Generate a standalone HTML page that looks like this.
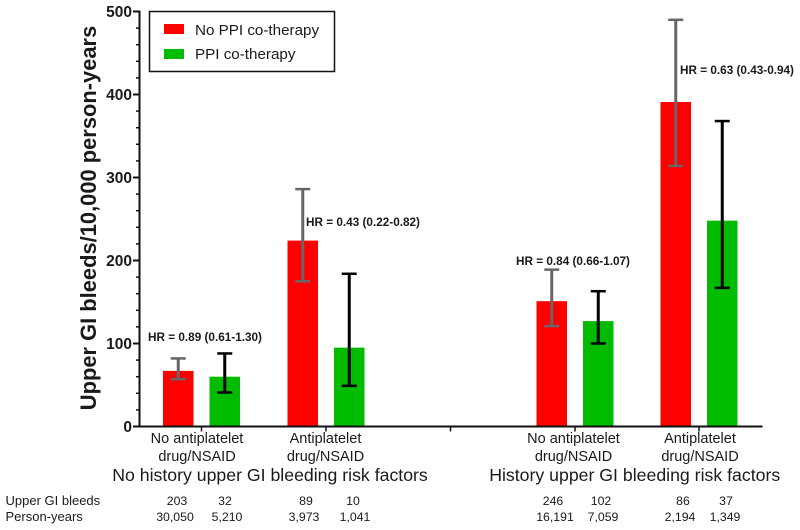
<!DOCTYPE html>
<html>
<head>
<meta charset="utf-8">
<style>
html,body{margin:0;padding:0;background:#fff;width:800px;height:530px;overflow:hidden}
svg{display:block}
text{font-family:"Liberation Sans",sans-serif;fill:#1a1a1a}
</style>
</head>
<body>
<svg id="chart" width="800" height="530" viewBox="0 0 800 530" xmlns="http://www.w3.org/2000/svg"></svg>
<script>
const categories = ["No antiplatelet|drug/NSAID", "Antiplatelet|drug/NSAID", "No antiplatelet|drug/NSAID", "Antiplatelet|drug/NSAID"];
const groupTitles = ["No history upper GI bleeding risk factors", "History upper GI bleeding risk factors"];
const noPpiValues = [67, 224, 151, 391];
const noPpiLow = [57, 175, 121, 314];
const noPpiHigh = [82, 286, 189, 490];
const ppiValues = [60, 95, 127, 248];
const ppiLow = [41, 49, 100, 167];
const ppiHigh = [88, 184, 163, 368];
const hrLabels = ["HR = 0.89 (0.61-1.30)", "HR = 0.43 (0.22-0.82)", "HR = 0.84 (0.66-1.07)", "HR = 0.63 (0.43-0.94)"];
const yTicks = [0, 100, 200, 300, 400, 500];
const bleedsNoPpi = ["203", "89", "246", "86"];
const bleedsPpi = ["32", "10", "102", "37"];
const yearsNoPpi = ["30,050", "3,973", "16,191", "2,194"];
const yearsPpi = ["5,210", "1,041", "7,059", "1,349"];

const svg = document.getElementById('chart');
const NS = 'http://www.w3.org/2000/svg';
function y(v){ return 426.5 - v * 0.83; }
const groupCenters = [201.5, 326, 575, 699];
const labelCenters = [197, 325.5, 573.5, 700];
function redX(i){ return groupCenters[i] - 38.5; }
function greenX(i){ return groupCenters[i] + 8; }
const barW = 30.5;
function add(tag, attrs, text){
  const el = document.createElementNS(NS, tag);
  for (const k in attrs) el.setAttribute(k, attrs[k]);
  if (text !== undefined) el.textContent = text;
  svg.appendChild(el);
  return el;
}
function line(x1,y1,x2,y2,color,w){
  return add('line',{x1:x1,y1:y1,x2:x2,y2:y2,stroke:color,'stroke-width':w});
}
function errorBar(cx, low, high, color, name){
  const a = line(cx, y(low), cx, y(high), color, 3);
  
  
  const b = line(cx-7.5, y(high), cx+7.5, y(high), color, 2.5);
  
  
  const c = line(cx-7.5, y(low), cx+7.5, y(low), color, 2.5);
  
  
}

// bars and error bars
categories.forEach((c, i) => {
  const r = add('rect',{x:redX(i),y:y(noPpiValues[i]),width:barW,height:y(0)-y(noPpiValues[i]),fill:'#fe0000'});
  
  
  const g = add('rect',{x:greenX(i),y:y(ppiValues[i]),width:barW,height:y(0)-y(ppiValues[i]),fill:'#00bb00'});
  
  
  errorBar(redX(i)+barW/2, noPpiLow[i], noPpiHigh[i], '#666666', 'error-bar-no-ppi-' + (i+1));
  errorBar(greenX(i)+barW/2, ppiLow[i], ppiHigh[i], '#000000', 'error-bar-ppi-' + (i+1));
});

// y axis
const yAxis = line(139.5, y(500)-1, 139.5, y(0)+1, '#111', 2);


for (let v = 0; v <= 500; v += 20) {
  const major = v % 100 === 0;
  const t = line(major ? 133 : 136, y(v), 139.5, y(v), '#111', major ? 2 : 1.5);
  
  
}
yTicks.forEach(v => {
  const t = add('text',{x:132,y:y(v)+5.5,'text-anchor':'end','font-size':15.5,'font-weight':'bold'}, String(v));
  
  
});
const yTitle = add('text',{x:0,y:0,transform:'translate(96,218) rotate(-90)','text-anchor':'middle','font-size':21.9,'font-weight':'bold',fill:'#111'},'Upper GI bleeds/10,000 person-years');



// x axis
const xAxis = line(138.5, y(0), 762.5, y(0), '#111', 2);


[201.5, 326, 450.5, 575, 699].forEach((tx, i) => {
  const t = line(tx, y(0), tx, y(0)+5, '#111', 1.5);
  
  
});

// category labels
categories.forEach((c, i) => {
  c.split('|').forEach((part, k) => {
    const t = add('text',{x:labelCenters[i],y:443+18*k,'text-anchor':'middle','font-size':14.5},part);
    
    
  });
});

// group titles
const gt1 = add('text',{x:270,y:481,'text-anchor':'middle','font-size':17.7},groupTitles[0]);


const gt2 = add('text',{x:634.7,y:481,'text-anchor':'middle','font-size':17.7},groupTitles[1]);



// hazard ratio labels
const hrX = [148, 306, 516, 680];
const hrY = [341, 226, 265, 74];
hrLabels.forEach((s, i) => {
  const t = add('text',{x:hrX[i],y:hrY[i],'font-size':11.75,'font-weight':'bold'},s);
  
  
});

// table
const rowA = add('text',{x:5.5,y:505,'font-size':13},'Upper GI bleeds');


const rowB = add('text',{x:5.5,y:521,'font-size':13},'Person-years');


const bleedsColA = [177, 306, 553, 683];
const bleedsColB = [225, 353, 601, 726];
const yearsColA = [175, 304, 555, 680];
const yearsColB = [227, 355, 603, 725];
categories.forEach((c, i) => {
  [[bleedsNoPpi, bleedsColA, 505, 'bleeds-no-ppi'], [bleedsPpi, bleedsColB, 505, 'bleeds-ppi'], [yearsNoPpi, yearsColA, 521, 'years-no-ppi'], [yearsPpi, yearsColB, 521, 'years-ppi']].forEach(r => {
    const t = add('text',{x:r[1][i],y:r[2],'text-anchor':'middle','font-size':12.3},r[0][i]);
    
    
  });
});

// legend
const box = add('rect',{x:149.5,y:11.5,width:185,height:60,fill:'#fff',stroke:'#111','stroke-width':1.5});


const s1 = add('rect',{x:164,y:24,width:20,height:10,fill:'#fe0000'});


const l1 = add('text',{x:195,y:35,'font-size':15.2},'No PPI co-therapy');


const s2 = add('rect',{x:164,y:49,width:20,height:10,fill:'#00bb00'});


const l2 = add('text',{x:195,y:59,'font-size':15.2},'PPI co-therapy');


</script>
</body>
</html>
